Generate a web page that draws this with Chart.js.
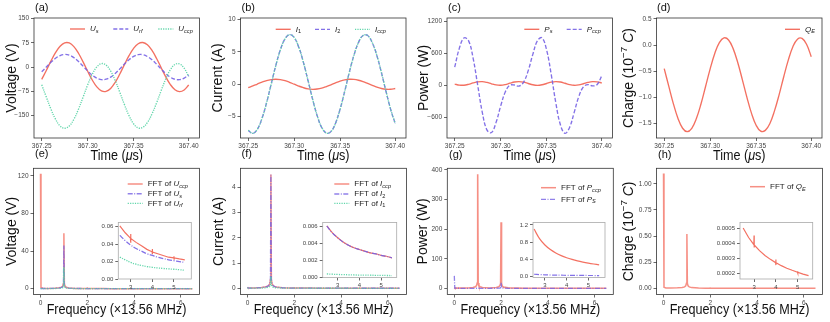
<!DOCTYPE html>
<html>
<head>
<meta charset="utf-8">
<script src="https://cdn.jsdelivr.net/npm/chart.js@4.4.0/dist/chart.umd.min.js"></script>
<style>
  body { margin: 0; background: #fff; }
  #fig { position: relative; width: 830px; height: 322px; }
  #fig canvas { position: absolute; left: 0; top: 0; }
</style>
</head>
<body>
<div id="fig"></div>
<script>
// --- DATA ---

// time axis of the upper row, in microseconds
const timeUs = [367.250, 367.255, 367.260, 367.265, 367.270, 367.275, 367.280, 367.285, 367.290, 367.295,
  367.300, 367.305, 367.310, 367.315, 367.320, 367.325, 367.330, 367.335, 367.340, 367.345,
  367.350, 367.355, 367.360, 367.365, 367.370, 367.375, 367.380, 367.385, 367.390, 367.395,
  367.400, 367.405, 367.410];
const timeTicks = [367.25, 367.30, 367.35, 367.41];
const timeTickLabels = ['367.25', '367.30', '367.35', '367.40'];

// (a) voltages, V
const uS = [-38.0, -10.6, 18.4, 44.6, 64.4, 74.8, 74.4, 63.1, 42.7, 16.1, -12.9, -40.0, -61.3, -73.6, -75.3, -66.0, -47.1,
  -21.3, 7.4, 35.2, 57.9, 72.1, 75.8, 68.6, 51.4, 26.6, -2.0, -30.2, -54.1, -69.9, -75.9, -70.8, -55.3];
const uRf = [-14.6, 0.0, 14.6, 27.0, 35.6, 39.0, 36.7, 29.0, 17.2, 2.9, -11.9, -25.0, -34.4, -38.8, -37.5, -30.9, -19.7,
  -5.6, 9.2, 22.7, 32.9, 38.4, 38.2, 32.5, 22.4, 8.8, -6.1, -20.1, -31.3, -37.7, -38.7, -34.0, -24.4];
const uCcp = [-54.8, -92.5, -129.7, -160.8, -181.7, -189.0, -181.8, -161.1, -130.0, -92.8, -55.1, -22.3, 0.7, 10.7, 6.3,
  -12.1, -41.6, -78.0, -115.9, -150.0, -175.2, -187.9, -186.2, -171.4, -144.7, -110.6, -72.5, -36.7, -8.1, 8.0, 9.7, -3.4, -29.2];

// (b) currents, A
const i1 = [-0.56, -0.30, 0.00, 0.28, 0.53, 0.68, 0.74, 0.67, 0.51, 0.26, -0.03, -0.32, -0.57, -0.75, -0.82, -0.78, -0.64,
  -0.40, -0.12, 0.18, 0.44, 0.63, 0.73, 0.71, 0.58, 0.36, 0.08, -0.21, -0.49, -0.70, -0.81, -0.81, -0.70];
const i2 = [-7.19, -7.65, -6.99, -5.32, -2.88, -0.01, 2.85, 5.30, 6.98, 7.64, 7.20, 5.70, 3.38, 0.57, -2.33, -4.89, -6.73,
  -7.60, -7.37, -6.06, -3.87, -1.12, 1.80, 4.44, 6.45, 7.52, 7.50, 6.39, 4.40, 1.74, -1.18, -3.93, -6.13];
const iCcp = [-7.17, -7.64, -6.99, -5.33, -2.90, -0.04, 2.82, 5.28, 6.97, 7.64, 7.21, 5.72, 3.41, 0.60, -2.30, -4.87, -6.72,
  -7.60, -7.38, -6.08, -3.90, -1.15, 1.77, 4.42, 6.44, 7.52, 7.51, 6.41, 4.43, 1.77, -1.15, -3.91, -6.12];

// (c) power, W
const pS = [23.6, 3.8, 1.5, 18.0, 43.9, 64.9, 69.1, 54.2, 28.5, 6.5, 0.4, 13.8, 39.0, 62.0, 69.9, 58.2, 33.5,
  9.7, 0.0, 9.9, 33.9, 58.5, 69.9, 61.8, 38.6, 13.4, 0.3, 6.6, 28.9, 54.5, 69.2, 64.8, 43.6];
const pCcp = [340, 690, 884, 835, 509, 2, -505, -833, -884, -693, -389, -125, 1, 5, -14, 59, 274,
  579, 833, 887, 661, 205, -326, -738, -898, -787, -507, -212, -31, 13, -12, 15, 177];

// (d) charge, 1e-7 C
const qE = [-0.452, -0.792, -1.126, -1.406, -1.594, -1.660, -1.595, -1.409, -1.129, -0.794, -0.455, -0.160, 0.047, 0.137,
  0.098, -0.068, -0.333, -0.661, -1.002, -1.309, -1.536, -1.650, -1.635, -1.502, -1.261, -0.954, -0.612, -0.289, -0.032,
  0.113, 0.128, 0.010, -0.222];

// lower row: spectra, frequency in units of 13.56 MHz
const fftFreq = [0, 0.02, 0.1, 0.3, 0.6, 0.8, 0.9, 0.95, 0.98, 1.0, 1.02, 1.05, 1.1, 1.2, 1.5, 1.8, 1.9, 1.95, 1.98,
  2.0, 2.02, 2.05, 2.1, 2.3, 2.7, 3.0, 3.5, 4.0, 4.5, 5.0, 5.5, 6.0, 6.5];
const freqTicks = [0, 2, 4, 6];
const fftUccp = [122.5, 1.2, 0.5, 0.3, 0.5, 0.9, 1.6, 2.8, 5.5, 59.0, 5.5, 2.6, 1.5, 0.8, 0.3, 0.2, 0.2, 0.3, 0.4,
  0.6, 0.4, 0.3, 0.2, 0.1, 0.08, 0.05, 0.04, 0.03, 0.03, 0.02, 0.02, 0.02, 0.02];
const fftUs = [0.3, 0.2, 0.2, 0.2, 0.4, 0.7, 1.3, 2.2, 4.3, 46.0, 4.3, 2.0, 1.2, 0.6, 0.25, 0.15, 0.12, 0.12, 0.15,
  0.2, 0.15, 0.12, 0.1, 0.08, 0.06, 0.04, 0.03, 0.03, 0.02, 0.02, 0.02, 0.02, 0.02];
const fftUrf = [0.15, 0.1, 0.1, 0.1, 0.2, 0.35, 0.65, 1.1, 2.1, 23.0, 2.1, 1.0, 0.6, 0.3, 0.12, 0.08, 0.06, 0.06, 0.07,
  0.1, 0.07, 0.06, 0.05, 0.04, 0.03, 0.02, 0.02, 0.01, 0.01, 0.01, 0.01, 0.01, 0.01];
const fftIccp = [0.04, 0.02, 0.01, 0.01, 0.03, 0.06, 0.1, 0.17, 0.35, 4.5, 0.35, 0.17, 0.1, 0.05, 0.02, 0.01, 0.01, 0.01, 0.01,
  0.02, 0.01, 0.01, 0.01, 0.01, 0.01, 0.005, 0.005, 0.004, 0.004, 0.003, 0.003, 0.003, 0.003];
const fftI2 = [0.04, 0.02, 0.01, 0.01, 0.03, 0.06, 0.1, 0.17, 0.35, 4.49, 0.35, 0.17, 0.1, 0.05, 0.02, 0.01, 0.01, 0.01, 0.01,
  0.01, 0.01, 0.01, 0.01, 0.01, 0.01, 0.005, 0.005, 0.004, 0.004, 0.003, 0.003, 0.003, 0.003];
const fftI1 = [0.01, 0.01, 0.005, 0.005, 0.01, 0.02, 0.04, 0.07, 0.14, 0.46, 0.14, 0.07, 0.04, 0.02, 0.01, 0.005, 0.005, 0.005, 0.005,
  0.005, 0.005, 0.005, 0.005, 0.004, 0.003, 0.002, 0.002, 0.002, 0.001, 0.001, 0.001, 0.001, 0.001];
const fftPccp = [3, 1, 0.5, 0.5, 1.2, 2.5, 5, 9, 18, 385, 18, 9, 5, 2.5, 1.2, 2.5, 5, 9, 16,
  223, 16, 8, 4, 1.5, 0.6, 0.4, 0.3, 0.3, 0.2, 0.2, 0.2, 0.2, 0.2];
const fftPs = [42, 0.5, 0.2, 0.1, 0.1, 0.1, 0.1, 0.2, 0.3, 0.6, 0.3, 0.2, 0.1, 0.1, 0.1, 0.2, 0.4, 0.8, 1.6,
  19, 1.6, 0.8, 0.4, 0.1, 0.05, 0.04, 0.03, 0.03, 0.03, 0.02, 0.02, 0.02, 0.02];
const fftQe = [1.1, 0.01, 0.004, 0.003, 0.005, 0.008, 0.014, 0.024, 0.048, 0.52, 0.048, 0.024, 0.014, 0.007, 0.003, 0.002, 0.002, 0.002, 0.002,
  0.003, 0.002, 0.002, 0.002, 0.001, 0.001, 0.001, 0.001, 0.001, 0.001, 0.001, 0.001, 0.001, 0.001];

// insets: zoom on the 2.5 .. 5.5 band
const insetFreq = [2.5, 2.75, 3.0, 3.25, 3.5, 3.75, 4.0, 4.25, 4.5, 4.75, 5.0, 5.25, 5.5];
const spikeFreq = [2.5, 2.75, 2.99, 3.0, 3.005, 3.01, 3.25, 3.5, 3.75, 3.99, 4.0, 4.005, 4.01, 4.25, 4.5, 4.75,
  4.99, 5.0, 5.005, 5.01, 5.25, 5.5];
const insetTicks = [3, 4, 5];
const insetUccp = [0.061, 0.053, 0.0468, 0.0515, 0.0415, 0.0465, 0.042, 0.038, 0.034, 0.0312, 0.0345, 0.0285, 0.031,
  0.029, 0.027, 0.025, 0.0242, 0.0262, 0.0228, 0.0241, 0.023, 0.022];
const insetUs = [0.050, 0.044, 0.039, 0.035, 0.032, 0.029, 0.027, 0.025, 0.0235, 0.022, 0.021, 0.020, 0.019];
const insetUrf = [0.025, 0.022, 0.019, 0.017, 0.0155, 0.0143, 0.0134, 0.0127, 0.0121, 0.0116, 0.0112, 0.0107, 0.0100];
const insetIccp = [0.0061, 0.0053, 0.0047, 0.0042, 0.0038, 0.0035, 0.0033, 0.0031, 0.0029, 0.0028, 0.0026, 0.0025, 0.0023];
const insetI2 = [0.00608, 0.00528, 0.00469, 0.00419, 0.00381, 0.00351, 0.00329, 0.00309, 0.00291, 0.00279, 0.00261, 0.00249, 0.00231];
const insetI1 = [0.00040, 0.00037, 0.00034, 0.00032, 0.00030, 0.00028, 0.00027, 0.00026, 0.00025, 0.00024, 0.00023, 0.00022, 0.00021];
const insetPccp = [1.106, 0.883, 0.735, 0.629, 0.550, 0.489, 0.440, 0.400, 0.366, 0.338, 0.314, 0.293, 0.274];
const insetPs = [0.055, 0.048, 0.042, 0.038, 0.035, 0.033, 0.031, 0.030, 0.029, 0.028, 0.027, 0.026, 0.025];
const insetQe = [0.000502, 0.000439, 0.000391, 0.000452, 0.000372, 0.000389, 0.000351, 0.000319, 0.000293, 0.000271,
  0.000292, 0.000255, 0.000270, 0.000251, 0.000234, 0.000220, 0.000208, 0.000214, 0.000201, 0.000207, 0.000195, 0.000185];

// --- STYLE ---
const FONT = '"Liberation Sans", Arial, sans-serif';
const RED = 'rgba(242, 96, 80, 0.9)';
const PURPLE = 'rgba(118, 98, 228, 0.9)';
const GREEN = 'rgba(90, 212, 166, 0.95)';
const RED_F = 'rgba(242, 96, 80, 0.7)';
const PURPLE_F = 'rgba(118, 98, 228, 0.8)';
const DASH = [4, 2];
const DOT = [1.2, 1.2];
const DASHDOT = [5, 1.5, 1, 1.5];
const TITLE_SIZE = 14;
const TITLE_SQUEEZE = 0.9;   // the x titles of the original run a bit narrow
const LINE_W = 1.35;

// rich text pieces: {t, i: italic, sub, sup}
const sym = (base, sub, subItalic = true) => [{ t: base, i: true }, { t: sub, i: subItalic, sub: true }];
const fftOf = (base, sub, subItalic = true) => [{ t: 'FFT of ' }].concat(sym(base, sub, subItalic));

function fontFor(p, size) {
  const s = (p.sub || p.sup) ? size * 0.7 : size;
  return (p.i ? 'italic ' : '') + s + 'px ' + FONT;
}

function drawRich(ctx, parts, x, y, size, align, sx = 1) {
  let w = 0;
  parts.forEach(p => { ctx.font = fontFor(p, size); w += ctx.measureText(p.t).width; });
  ctx.save();
  ctx.translate(x, y);
  ctx.scale(sx, 1);
  let cx = align === 'center' ? -w / 2 : 0;
  ctx.textAlign = 'left';
  ctx.textBaseline = 'middle';
  parts.forEach(p => {
    ctx.font = fontFor(p, size);
    const dy = p.sub ? size * 0.28 : (p.sup ? -size * 0.35 : 0);
    ctx.fillText(p.t, cx, dy);
    cx += ctx.measureText(p.t).width;
  });
  ctx.restore();
}

// frame, panel tag, axis titles and legend drawn around the chart area
function decoPlugin(d) {
  return {
    id: 'deco',
    beforeDraw(chart) {
      if (!d.whiteBg) return;
      const a = chart.chartArea;
      const ctx = chart.ctx;
      ctx.save();
      ctx.fillStyle = '#fff';
      ctx.fillRect(a.left, a.top, a.right - a.left, a.bottom - a.top);
      ctx.restore();
    },
    afterDraw(chart) {
      const ctx = chart.ctx;
      const a = chart.chartArea;
      ctx.save();
      ctx.strokeStyle = d.frame || '#333';
      ctx.lineWidth = 0.8;
      ctx.strokeRect(a.left, a.top, a.right - a.left, a.bottom - a.top);

      ctx.fillStyle = '#111';
      if (d.tag) drawRich(ctx, [{ t: d.tag }], d.tagX, d.tagY, 11, 'left');
      if (d.xTitle) drawRich(ctx, d.xTitle, (a.left + a.right) / 2, d.xTitleY, TITLE_SIZE, 'center', TITLE_SQUEEZE);
      if (d.yTitle) {
        ctx.save();
        ctx.translate(d.yTitleX, (a.top + a.bottom) / 2);
        ctx.rotate(-Math.PI / 2);
        drawRich(ctx, d.yTitle, 0, 0, TITLE_SIZE, 'center');
        ctx.restore();
      }
      if (d.legend) {
        d.legend.forEach(it => {
          ctx.save();
          ctx.strokeStyle = it.color;
          ctx.lineWidth = it.width || LINE_W;
          ctx.setLineDash(it.dash || []);
          ctx.beginPath();
          ctx.moveTo(it.x, it.y);
          ctx.lineTo(it.x + 15, it.y);
          ctx.stroke();
          ctx.restore();
          ctx.fillStyle = '#222';
          drawRich(ctx, it.parts, it.x + 20, it.y, 8, 'left');
        });
      }
      ctx.restore();
    }
  };
}

function axisOpts(ax, size, dir, fixed) {
  return {
    type: 'linear',
    min: ax.min,
    max: ax.max,
    afterBuildTicks: s => { s.ticks = ax.ticks.map(v => ({ value: v })); },
    afterFit: s => { if (dir === 'x') s.height = fixed; else s.width = fixed; },
    ticks: {
      callback: (v, i) => ax.labels[i],
      font: { family: FONT, size: size },
      color: '#444',
      padding: dir === 'x' ? 1.5 : 2,
      maxRotation: 0,
      autoSkip: false
    },
    grid: { drawOnChartArea: false, drawTicks: true, tickLength: 3, tickColor: '#444', lineWidth: 0.8 },
    border: { display: false }
  };
}

function addChart(spec) {
  const canvas = document.createElement('canvas');
  canvas.width = 830;
  canvas.height = 322;
  canvas.style.width = '830px';
  canvas.style.height = '322px';
  document.getElementById('fig').appendChild(canvas);

  const [l, t, r, b] = spec.frame;
  const yW = 30, xH = 14;
  return new Chart(canvas, {
    type: 'line',
    data: {
      // later series are painted on top, like the original plot
      datasets: spec.series.map((s, k) => ({
        data: s.x.map((v, i) => ({ x: v, y: s.y[i] })),
        borderColor: s.color,
        borderWidth: s.width || LINE_W,
        borderDash: s.dash || [],
        pointRadius: 0,
        tension: s.tension || 0,
        fill: false,
        order: -k
      }))
    },
    options: {
      responsive: false,
      animation: false,
      devicePixelRatio: 1,
      events: [],
      layout: { padding: { left: l - yW, top: t, right: 830 - r, bottom: 322 - b - xH } },
      plugins: { legend: { display: false }, tooltip: { enabled: false } },
      scales: {
        x: axisOpts(spec.x, spec.tickSize || 6.5, 'x', xH),
        y: axisOpts(spec.y, spec.tickSize || 6.5, 'y', yW)
      }
    },
    plugins: [decoPlugin(spec.deco)]
  });
}

// --- PANELS ---
const timeAxis = { min: 367.2416, max: 367.4217, ticks: timeTicks, labels: timeTickLabels };
const freqAxis = { min: -0.3, max: 6.8, ticks: freqTicks, labels: ['0', '2', '4', '6'] };
const insetX = (min, max) => ({ min, max, ticks: insetTicks, labels: ['3', '4', '5'] });
const xTime = [{ t: 'Time (' }, { t: 'μ', i: true }, { t: 's)' }];
const xFreq = [{ t: 'Frequency (×13.56 MHz)' }];
const yCharge = [{ t: 'Charge (10' }, { t: '−7', sup: true }, { t: ' ' }, { t: 'C', i: true }, { t: ')' }];
const tsmooth = 0.4;

// (a)
addChart({
  frame: [34, 18, 199.5, 138],
  x: timeAxis,
  y: { min: -219, max: 151.5, ticks: [-150, -75, 0, 75, 150], labels: ['−150', '−75', '0', '75', '150'] },
  series: [
    { x: timeUs, y: uS, color: RED, tension: tsmooth },
    { x: timeUs, y: uRf, color: PURPLE, dash: DASH, tension: tsmooth },
    { x: timeUs, y: uCcp, color: GREEN, dash: DOT, tension: tsmooth }
  ],
  deco: {
    tag: '(a)', tagX: 35, tagY: 7.5, xTitle: xTime, xTitleY: 156.5, yTitle: [{ t: 'Voltage (V)' }], yTitleX: 12.5,
    legend: [
      { x: 70, y: 29, color: RED, parts: sym('U', 's') },
      { x: 113.3, y: 29, color: PURPLE, dash: DASH, parts: sym('U', 'rf') },
      { x: 158.3, y: 29, color: GREEN, dash: DOT, parts: sym('U', 'ccp') }
    ]
  }
});

// (b)
addChart({
  frame: [240.5, 18, 406, 138],
  x: timeAxis,
  y: { min: -8.36, max: 10.22, ticks: [-5, 0, 5, 10], labels: ['−5', '0', '5', '10'] },
  series: [
    { x: timeUs, y: i1, color: RED, tension: tsmooth },
    { x: timeUs, y: i2, color: PURPLE, dash: DASH, tension: tsmooth },
    { x: timeUs, y: iCcp, color: GREEN, dash: DOT, tension: tsmooth }
  ],
  deco: {
    tag: '(b)', tagX: 241.5, tagY: 7.5, xTitle: xTime, xTitleY: 156.5, yTitle: [{ t: 'Current (A)' }], yTitleX: 218.5,
    legend: [
      { x: 275.7, y: 29.3, color: RED, parts: sym('I', '1', false) },
      { x: 315, y: 29.3, color: PURPLE, dash: DASH, parts: sym('I', '2', false) },
      { x: 355, y: 29.3, color: GREEN, dash: DOT, parts: sym('I', 'ccp') }
    ]
  }
});

// (c)
addChart({
  frame: [447, 18, 612.5, 138],
  x: timeAxis,
  y: { min: -985, max: 1258, ticks: [-600, 0, 600, 1200], labels: ['−600', '0', '600', '1200'] },
  series: [
    { x: timeUs, y: pS, color: RED, tension: tsmooth },
    { x: timeUs, y: pCcp, color: PURPLE, dash: DASH, tension: tsmooth }
  ],
  deco: {
    tag: '(c)', tagX: 448, tagY: 7.5, xTitle: xTime, xTitleY: 156.5, yTitle: [{ t: 'Power (W)' }], yTitleX: 424.5,
    legend: [
      { x: 524.3, y: 29.3, color: RED, parts: sym('P', 's') },
      { x: 566.7, y: 29.3, color: PURPLE, dash: DASH, parts: sym('P', 'ccp') }
    ]
  }
});

// (d)
addChart({
  frame: [656.5, 18, 822, 138],
  x: timeAxis,
  y: { min: -1.781, max: 0.519, ticks: [-1.5, -1.0, -0.5, 0.0, 0.5], labels: ['−1.5', '−1.0', '−0.5', '0.0', '0.5'] },
  series: [
    { x: timeUs, y: qE, color: RED, tension: tsmooth }
  ],
  deco: {
    tag: '(d)', tagX: 657, tagY: 7.5, xTitle: xTime, xTitleY: 156.5, yTitle: yCharge, yTitleX: 629.5,
    legend: [
      { x: 785, y: 29.3, color: RED, parts: sym('Q', 'E') }
    ]
  }
});

// (e)
addChart({
  frame: [33.5, 168.3, 199.5, 294.5],
  x: freqAxis,
  y: { min: -6.2, max: 128.2, ticks: [0, 40, 80, 120], labels: ['0', '40', '80', '120'] },
  series: [
    { x: fftFreq, y: fftUccp, color: RED_F, width: 1.5 },
    { x: fftFreq, y: fftUs, color: PURPLE_F, dash: DASHDOT, width: 1.3 },
    { x: fftFreq, y: fftUrf, color: GREEN, dash: DOT, width: 1.3 }
  ],
  deco: {
    tag: '(e)', tagX: 35, tagY: 154, xTitle: xFreq, xTitleY: 310, yTitle: [{ t: 'Voltage (V)' }], yTitleX: 12.5,
    legend: [
      { x: 127.7, y: 184, color: RED_F, width: 1.5, parts: fftOf('U', 'ccp') },
      { x: 127.7, y: 193.7, color: PURPLE_F, dash: DASHDOT, parts: fftOf('U', 's') },
      { x: 127.7, y: 203.3, color: GREEN, dash: DOT, parts: fftOf('U', 'rf') }
    ]
  }
});

// (f)
addChart({
  frame: [240.5, 168.3, 406.5, 294.5],
  x: freqAxis,
  y: { min: -0.245, max: 4.75, ticks: [0, 1, 2, 3, 4], labels: ['0', '1', '2', '3', '4'] },
  series: [
    { x: fftFreq, y: fftIccp, color: RED_F, width: 1.5 },
    { x: fftFreq, y: fftI2, color: PURPLE_F, dash: DASHDOT, width: 1.3 },
    { x: fftFreq, y: fftI1, color: GREEN, dash: DOT, width: 1.3 }
  ],
  deco: {
    tag: '(f)', tagX: 241.5, tagY: 154, xTitle: xFreq, xTitleY: 310, yTitle: [{ t: 'Current (A)' }], yTitleX: 219.5,
    legend: [
      { x: 334.3, y: 184, color: RED_F, width: 1.5, parts: fftOf('I', 'ccp') },
      { x: 334.3, y: 194, color: PURPLE_F, dash: DASHDOT, parts: fftOf('I', '2', false) },
      { x: 334.3, y: 203.3, color: GREEN, dash: DOT, parts: fftOf('I', '1', false) }
    ]
  }
});

// (g)
addChart({
  frame: [447.3, 168.3, 613.3, 294.5],
  x: freqAxis,
  y: { min: -20.9, max: 405.4, ticks: [0, 100, 200, 300, 400], labels: ['0', '100', '200', '300', '400'] },
  series: [
    { x: fftFreq, y: fftPccp, color: RED_F, width: 1.6 },
    { x: fftFreq, y: fftPs, color: PURPLE_F, dash: DASHDOT, width: 1.3 }
  ],
  deco: {
    tag: '(g)', tagX: 449, tagY: 155, xTitle: xFreq, xTitleY: 310, yTitle: [{ t: 'Power (W)' }], yTitleX: 423,
    legend: [
      { x: 541, y: 187.7, color: RED_F, width: 1.5, parts: fftOf('P', 'ccp') },
      { x: 541, y: 199.3, color: PURPLE_F, dash: DASHDOT, parts: fftOf('P', 'S') }
    ]
  }
});

// (h)
addChart({
  frame: [656.5, 168.3, 822.5, 294.5],
  x: freqAxis,
  y: { min: -0.059, max: 1.149, ticks: [0, 0.25, 0.5, 0.75, 1.0], labels: ['0.00', '0.25', '0.50', '0.75', '1.00'] },
  series: [
    { x: fftFreq, y: fftQe, color: RED_F, width: 1.5 }
  ],
  deco: {
    tag: '(h)', tagX: 658, tagY: 155, xTitle: xFreq, xTitleY: 310, yTitle: yCharge, yTitleX: 629.5,
    legend: [
      { x: 750, y: 186.7, color: RED_F, width: 1.5, parts: fftOf('Q', 'E') }
    ]
  }
});

// --- INSETS ---
addChart({
  frame: [118.3, 222.5, 191.3, 279],
  tickSize: 6,
  x: insetX(2.43, 5.8),
  y: { min: 0, max: 0.0648, ticks: [0, 0.02, 0.04, 0.06], labels: ['0.00', '0.02', '0.04', '0.06'] },
  series: [
    { x: spikeFreq, y: insetUccp, color: RED, width: 1.2 },
    { x: insetFreq, y: insetUs, color: PURPLE, dash: DASHDOT, width: 1.3, tension: tsmooth },
    { x: insetFreq, y: insetUrf, color: GREEN, dash: DOT, width: 1.3, tension: tsmooth }
  ],
  deco: { whiteBg: true, frame: '#aaa' }
});

addChart({
  frame: [322.7, 222.5, 396.7, 277.5],
  tickSize: 6,
  x: insetX(2.31, 5.72),
  y: { min: -0.00002, max: 0.0065, ticks: [0, 0.002, 0.004, 0.006], labels: ['0.000', '0.002', '0.004', '0.006'] },
  series: [
    { x: insetFreq, y: insetIccp, color: RED, width: 1.2, tension: tsmooth },
    { x: insetFreq, y: insetI2, color: PURPLE, dash: DASHDOT, width: 1.2, tension: tsmooth },
    { x: insetFreq, y: insetI1, color: GREEN, dash: DOT, width: 1.3, tension: tsmooth }
  ],
  deco: { whiteBg: true, frame: '#aaa' }
});

addChart({
  frame: [533, 222.5, 605, 277.5],
  tickSize: 6,
  x: insetX(2.45, 5.77),
  y: { min: -0.02, max: 1.258, ticks: [0, 0.4, 0.8, 1.2], labels: ['0.0', '0.4', '0.8', '1.2'] },
  series: [
    { x: insetFreq, y: insetPccp, color: RED, width: 1.2, tension: tsmooth },
    { x: insetFreq, y: insetPs, color: PURPLE, dash: DASHDOT, width: 1.2, tension: tsmooth }
  ],
  deco: { whiteBg: true, frame: '#aaa' }
});

addChart({
  frame: [740, 222.5, 812.7, 279],
  tickSize: 6,
  x: insetX(2.355, 5.69),
  y: { min: 0.000162, max: 0.000539, ticks: [0.0002, 0.0003, 0.0004, 0.0005], labels: ['0.0002', '0.0003', '0.0004', '0.0005'] },
  series: [
    { x: spikeFreq, y: insetQe, color: RED, width: 1.2 }
  ],
  deco: { whiteBg: true, frame: '#aaa' }
});
</script>
</body>
</html>
